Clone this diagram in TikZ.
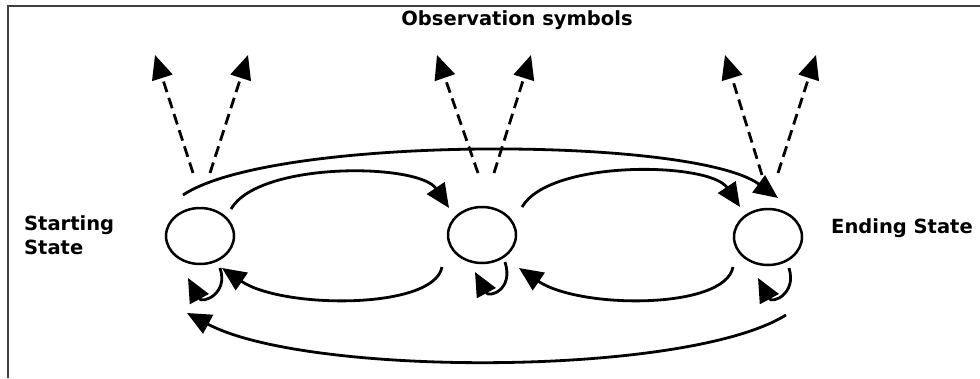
\documentclass[tikz,border=0pt]{standalone}
\usepackage{fontspec}
\setmainfont{DejaVu Sans}
\usetikzlibrary{arrows.meta,shapes.geometric}
\begin{document}
\begin{tikzpicture}[x=1pt,y=-1pt,
  state/.style={draw, ellipse, line width=2.5pt, minimum width=68pt, minimum height=56pt, inner sep=0pt},
  trans/.style={line width=2.8pt, -{Triangle[length=24pt,width=21pt]}},
  emit/.style={trans, dash pattern=on 11pt off 6pt},
  lbl/.style={font=\bfseries\fontsize{19.5}{23.5}\selectfont, inner sep=0pt, align=left},
  frameline/.style={draw=black!75, line width=1.8pt}
]
\useasboundingbox (0,0) rectangle (980,378);
\draw[frameline] (8,378) -- (8,6) -- (980,6);

\node[state] (s1) at (200,236) {};
\node[state] (s2) at (482,235) {};
\node[state] (s3) at (768,237) {};

\node[lbl, anchor=base] (obs) at (517,25) {Observation symbols};
\node[lbl, anchor=north west] (start) at (24,215.5) {Starting\\State};
\node[lbl, anchor=base west] (end) at (831,233) {Ending State};

% emissions
\draw[emit] ([shift={(-7,-63)}]s1.center) -- ([shift={(-45,-181)}]s1.center);
\draw[emit] ([shift={(10,-63)}]s1.center) -- ([shift={(48,-181)}]s1.center);
\draw[emit] ([shift={(-4,-62)}]s2.center) -- ([shift={(-45,-180)}]s2.center);
\draw[emit] ([shift={(12,-62)}]s2.center) -- ([shift={(49,-180)}]s2.center);
\draw[emit] ([shift={(-6,-62)}]s3.center) -- ([shift={(-43,-182)}]s3.center);
\draw[emit] ([shift={(10,-64)}]s3.center) -- ([shift={(48,-182)}]s3.center);

% forward transitions
\draw[trans] ([shift={(-17,-41)}]s1.center) .. controls +(90,-60) and +(-85,-62) .. ([shift={(10,-39)}]s3.center);
\draw[trans] ([shift={(31,-27)}]s1.center) .. controls +(28,-48) and +(-30,-45) .. ([shift={(-33,-27)}]s2.center);
\draw[trans] ([shift={(40,-28)}]s2.center) .. controls +(28,-48) and +(-30,-45) .. ([shift={(-28,-30)}]s3.center);

% backward transitions
\draw[trans] ([shift={(-40,32)}]s2.center) .. controls +(-8,43) and +(60,41) .. ([shift={(22,32)}]s1.center);
\draw[trans] ([shift={(-35,30)}]s3.center) .. controls +(-8,43) and +(60,41) .. ([shift={(37,33)}]s2.center);
\draw[trans] ([shift={(18,78)}]s3.center) .. controls +(-100,62) and +(120,64) .. ([shift={(-13,77)}]s1.center);

% self loops
\draw[trans] ([shift={(20,32)}]s1.center) .. controls +(9,26) and +(14,26) .. ([shift={(-12,42)}]s1.center);
\draw[trans] ([shift={(23,27)}]s2.center) .. controls +(9,28) and +(14,26) .. ([shift={(-7,37)}]s2.center);
\draw[trans] ([shift={(21,31)}]s3.center) .. controls +(8,26) and +(14,26) .. ([shift={(-10,41)}]s3.center);
\end{tikzpicture}
\end{document}
